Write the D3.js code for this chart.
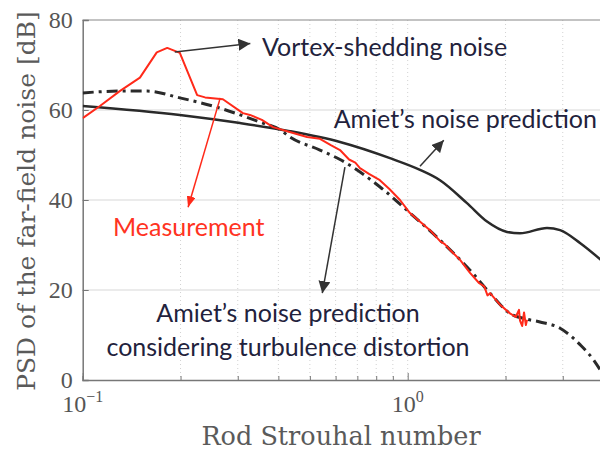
<!DOCTYPE html>
<html lang="en">
<head>
  <meta charset="UTF-8" />
  <title>PSD vs Rod Strouhal number</title>
  <script src="https://d3js.org/d3.v7.min.js"></script>
  <style>
    body { margin: 0; background: #fff; }
    .serif { font-family: "DejaVu Serif", "Liberation Serif", serif; fill: #5a5a5a; }
    .tick-label { font-family: "Liberation Serif", serif; fill: #555; }
    .note { font-family: Lato, "Open Sans", sans-serif; font-size: 25px; fill: #22223c; }
  </style>
</head>
<body>
  <svg id="chart" width="600" height="453"></svg>

  <script>
    // Measurement (red)
    const stMeas = [0.100, 0.113, 0.130, 0.150, 0.169, 0.182, 0.199, 0.225, 0.238, 0.270, 0.311, 0.327, 0.356, 0.385,
      0.444, 0.490, 0.537, 0.580, 0.619, 0.660, 0.690, 0.713, 0.760, 0.821, 0.880, 0.947, 1.016, 1.090, 1.171,
      1.260, 1.300, 1.350, 1.449, 1.555, 1.660, 1.720, 1.760, 1.792, 1.920, 2.064, 2.150, 2.200, 2.216, 2.250,
      2.280, 2.310, 2.329];
    const dbMeas = [58.2, 60.9, 64.2, 67.2, 72.8, 73.8, 72.7, 63.3, 62.8, 62.4, 59.3, 58.9, 57.8, 56.2,
      54.9, 54.0, 53.6, 52.2, 51.1, 49.0, 48.3, 47.1, 45.8, 44.4, 42.4, 40.0, 37.1, 35.2, 33.3,
      30.8, 30.2, 28.9, 26.7, 23.8, 21.5, 20.8, 18.8, 19.3, 16.8, 14.8, 14.0, 15.6, 13.2, 12.0,
      15.0, 12.2, 13.4];

    // Amiet's noise prediction (solid)
    const stAmiet = [0.100, 0.199, 0.305, 0.434, 0.619, 0.882, 1.091, 1.257, 1.522, 1.754, 2.021, 2.216, 2.683, 2.944, 3.397, 3.930];
    const dbAmiet = [60.9, 58.9, 57.1, 55.3, 52.9, 49.3, 46.7, 44.4, 39.3, 35.2, 32.9, 32.6, 33.8, 33.3, 30.4, 26.7];

    // Amiet's prediction with turbulence distortion (dash-dot)
    const stDist = [0.100, 0.130, 0.158, 0.199, 0.265, 0.351, 0.405, 0.434, 0.537, 0.619, 0.822, 1.017, 1.257, 1.555,
      1.792, 2.064, 2.329, 2.553, 2.944, 3.397, 3.738, 3.930];
    const dbDist = [63.8, 64.2, 64.2, 62.7, 60.4, 57.3, 55.6, 54.0, 51.1, 49.0, 42.9, 37.1, 31.1, 24.4,
      19.3, 14.8, 13.5, 12.9, 11.5, 7.8, 4.4, 2.0];

    const yTicks = [0, 20, 40, 60, 80];
    const yGrid = [20, 40, 60];
    const xTicks = [0.1, 0.2, 0.3, 0.4, 0.5, 0.6, 0.7, 0.8, 0.9, 1, 2, 3];
    const xLabels = [{ v: 0.1, exp: "\u22121" }, { v: 1, exp: "0" }];

    const svg = d3.select("#chart");
    const margin = { top: 20, right: 0, bottom: 73, left: 82.7 };
    const x = d3.scaleLog().domain([0.1, 4]).range([margin.left, margin.left + 325 * Math.log10(40)]);
    const y = d3.scaleLinear().domain([0, 80]).range([380, 20]);

    svg.append("defs").append("clipPath").attr("id", "plot")
      .append("rect").attr("x", margin.left).attr("y", 20).attr("width", 600 - margin.left).attr("height", 360);

    // grid
    svg.append("g").selectAll("line").data(yGrid).join("line")
      .attr("x1", margin.left).attr("x2", 600)
      .attr("y1", d => y(d)).attr("y2", d => y(d))
      .attr("stroke", "#e4e4e4").attr("stroke-width", 1.5);
    svg.append("g").selectAll("line").data(xTicks.slice(1)).join("line")
      .attr("x1", d => x(d)).attr("x2", d => x(d))
      .attr("y1", 20).attr("y2", 380)
      .attr("stroke", "#d2d2d2").attr("stroke-width", 1).attr("stroke-dasharray", "1,3");

    // top border
    svg.append("line").attr("x1", margin.left).attr("x2", 600).attr("y1", 20).attr("y2", 20)
      .attr("stroke", "#888").attr("stroke-width", 1.2);

    // axes
    const yAxis = svg.append("g")
      .attr("transform", `translate(${margin.left},0)`)
      .call(d3.axisLeft(y).tickValues(yTicks).tickSize(-6).tickPadding(10));
    yAxis.select(".domain").attr("stroke", "#777").attr("stroke-width", 1.5);
    yAxis.selectAll(".tick line").attr("stroke", "#777");
    yAxis.selectAll("text").attr("class", "tick-label").attr("font-size", 24).attr("fill", "#555")
      .attr("dy", "0.3em");

    const xAxis = svg.append("g")
      .attr("transform", "translate(0,380)")
      .call(d3.axisBottom(x).tickValues(xTicks).tickSize(-4).tickFormat(""));
    xAxis.select(".domain").attr("stroke", "#777").attr("stroke-width", 1.5);
    xAxis.selectAll(".tick line").attr("stroke", "#777")
      .attr("y2", d => (d === 0.1 || d === 1) ? -7 : -4);

    const xl = svg.append("g").selectAll("text").data(xLabels).join("text")
      .attr("class", "tick-label").attr("font-size", 24)
      .attr("x", d => x(d.v)).attr("y", 412).attr("text-anchor", "middle");
    xl.append("tspan").text("10");
    xl.append("tspan").attr("font-size", 16).attr("dy", -10).text(d => d.exp);

    svg.append("text").attr("class", "serif").attr("font-size", 25.5)
      .attr("x", 341).attr("y", 445).attr("text-anchor", "middle")
      .text("Rod Strouhal number");
    svg.append("text").attr("class", "serif").attr("font-size", 25)
      .attr("transform", "translate(35,201) rotate(-90)").attr("text-anchor", "middle")
      .text("PSD of the far-field noise [dB]");

    // curves
    const lineOf = (st, db) => d3.line().curve(d3.curveMonotoneX)
      .x((d, i) => x(st[i])).y((d, i) => y(db[i]))(st);
    const lines = svg.append("g").attr("clip-path", "url(#plot)").attr("fill", "none");
    lines.append("path").attr("d", lineOf(stAmiet, dbAmiet))
      .attr("stroke", "#2a2a2a").attr("stroke-width", 2.5);
    lines.append("path").attr("d", lineOf(stDist, dbDist))
      .attr("stroke", "#2a2a2a").attr("stroke-width", 3).attr("stroke-dasharray", "11,5,3,5");
    lines.append("path")
      .attr("d", d3.line().x((d, i) => x(stMeas[i])).y((d, i) => y(dbMeas[i]))(stMeas))
      .attr("stroke", "#ff2a1a").attr("stroke-width", 2).attr("stroke-linejoin", "round");

    // arrows
    const defs = svg.select("defs");
    [["headK", "#333", 12, 12], ["headR", "#ff2a1a", 11, 9]].forEach(([id, c, w, h]) => {
      defs.append("marker").attr("id", id).attr("markerUnits", "userSpaceOnUse")
        .attr("markerWidth", w).attr("markerHeight", h).attr("refX", w).attr("refY", h / 2)
        .attr("orient", "auto")
        .append("path").attr("d", `M0,0L${w},${h / 2}L0,${h}Z`).attr("fill", c);
    });
    const arrows = [
      { from: [0.192, 72.9], to: [0.328, 74.8], color: "#333", head: "headK" },
      { from: [0.265, 62.7], to: [0.211, 38.4], color: "#ff2a1a", head: "headR" },
      { from: [1.091, 47.5], to: [1.291, 53.3], color: "#333", head: "headK" },
      { from: [0.641, 47.3], to: [0.546, 19.3], color: "#333", head: "headK" }
    ];
    svg.append("g").selectAll("line").data(arrows).join("line")
      .attr("x1", d => x(d.from[0])).attr("y1", d => y(d.from[1]))
      .attr("x2", d => x(d.to[0])).attr("y2", d => y(d.to[1]))
      .attr("stroke", d => d.color).attr("stroke-width", 1.5)
      .attr("marker-end", d => `url(#${d.head})`);

    // annotations
    svg.append("text").attr("class", "note").attr("x", 262).attr("y", 56).text("Vortex-shedding noise");
    svg.append("text").attr("class", "note").attr("x", 597).attr("y", 128).attr("text-anchor", "end")
      .text("Amiet\u2019s noise prediction");
    svg.append("text").attr("class", "note").attr("x", 113).attr("y", 236).style("fill", "#ff3322")
      .text("Measurement");
    svg.append("text").attr("class", "note").attr("x", 288).attr("y", 322).attr("text-anchor", "middle")
      .text("Amiet\u2019s noise prediction");
    svg.append("text").attr("class", "note").attr("x", 288).attr("y", 356).attr("text-anchor", "middle")
      .text("considering turbulence distortion");
  </script>
</body>
</html>
